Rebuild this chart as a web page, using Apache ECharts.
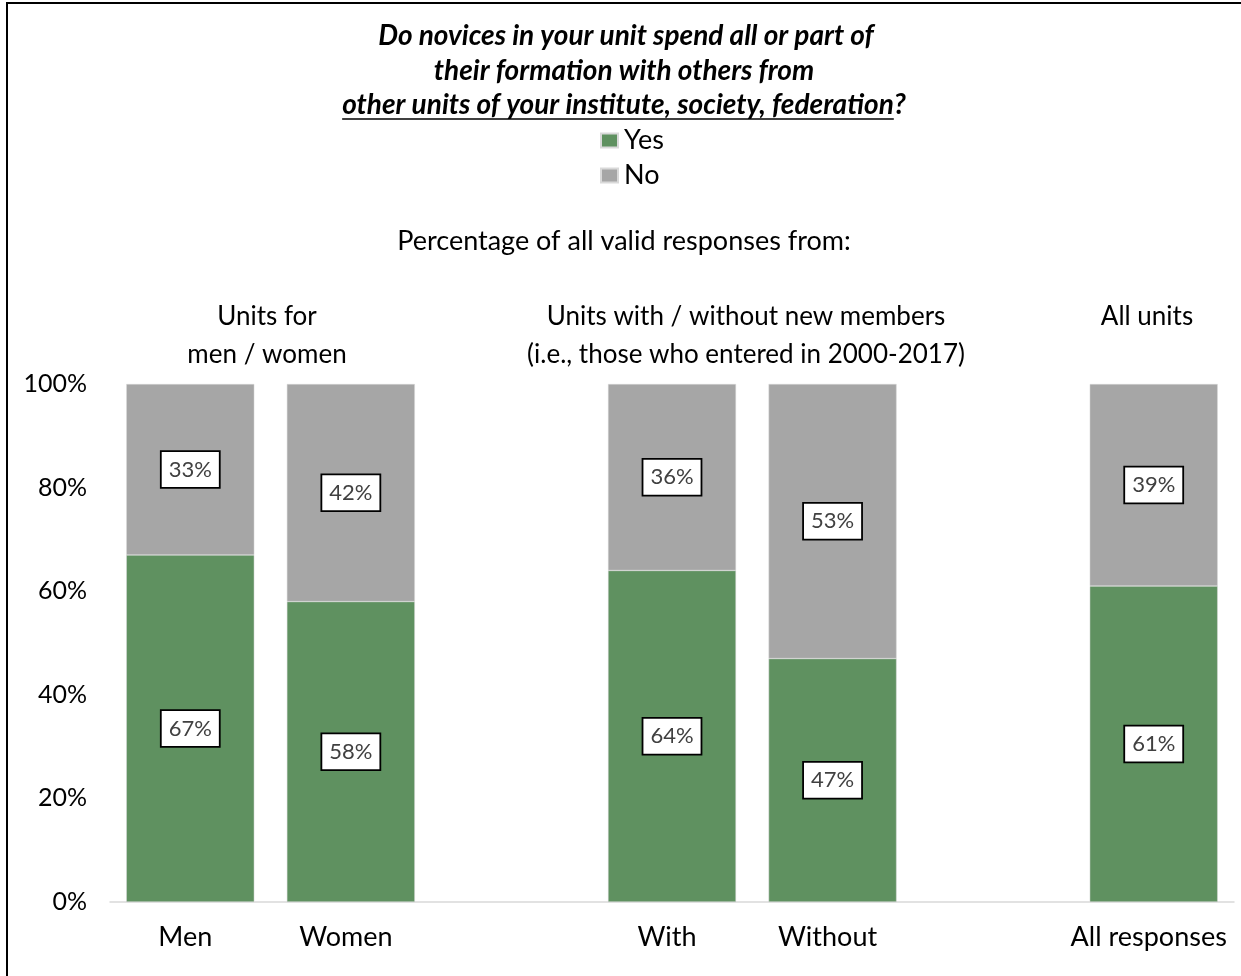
<!DOCTYPE html>
<html><head><meta charset="utf-8">
<script src="https://cdn.jsdelivr.net/npm/echarts@6/dist/echarts.min.js"></script>
<style>html,body{margin:0;padding:0;background:#fff}#c{width:1241px;height:976px}</style>
</head><body><div id="c"></div>
<script>
const categories = ['Men', 'Women', '', 'With', 'Without', '', 'All responses'];
const yesValues = [67, 58, null, 64, 47, null, 61];
const noValues = [33, 42, null, 36, 53, null, 39];
const yTicks = [0, 20, 40, 60, 80, 100];
const titleLines = ['Do novices in your unit spend all or part of', 'their formation with others from'];
const titleLine3 = 'other units of your institute, society, federation';
const subtitle = 'Percentage of all valid responses from:';
const groupLabels = ['Units for\nmen / women', 'Units with / without new members\n(i.e., those who entered in 2000-2017)', 'All units'];

const FONT = 'Lato';
const TITLE_FONT = 'italic bold 28px ' + FONT;
// measure line 3 to place the underline and question mark
const mctx = document.createElement('canvas').getContext('2d');
mctx.font = TITLE_FONT;
const w3 = mctx.measureText(titleLine3).width;
const wq = mctx.measureText('?').width;
const cx3 = 624;
const x3start = cx3 - (w3 + wq) / 2;

const chart = echarts.init(document.getElementById('c'), null, {renderer: 'canvas'});
const labelStyle = {
  show: true, position: 'inside', formatter: p => p.value == null ? '' : p.value + '%',
  color: '#404040', fontFamily: FONT, fontSize: 22, lineHeight: 22, backgroundColor: '#fff',
  borderColor: '#000', borderWidth: 1.8, padding: [7, 7, 6, 7]
};
const titleStyle = {font: TITLE_FONT, fill: '#000', textAlign: 'center', textVerticalAlign: 'middle'};
chart.setOption({
  animation: false,
  grid: {left: 110, width: 1124, top: 384, bottom: 74, containLabel: false},
  legend: {
    orient: 'vertical', left: 600, top: 127, padding: 0, itemWidth: 17, itemHeight: 14, itemGap: 8,
    icon: 'rect', textStyle: {fontFamily: FONT, fontSize: 27, lineHeight: 27, color: '#000', padding: [0, 0, 0, 1]},
    data: ['Yes', 'No']
  },
  xAxis: {
    type: 'category', data: categories,
    axisLine: {lineStyle: {color: '#d9d9d9', width: 1.5}}, axisTick: {show: false},
    axisLabel: {fontFamily: FONT, fontSize: 27, color: '#000', margin: 22, interval: 0, padding: [0, 10, 0, 0]}
  },
  yAxis: {
    type: 'value', min: 0, max: 100, interval: 20,
    axisLine: {show: false}, axisTick: {show: false}, splitLine: {show: false},
    axisLabel: {fontFamily: FONT, fontSize: 25, color: '#000', margin: 23,
      formatter: v => yTicks.includes(v) ? v + '%' : ''}
  },
  series: [
    {name: 'Yes', type: 'bar', stack: 's', data: yesValues, barWidth: 128,
     itemStyle: {color: '#5F9160', borderColor: '#d9d9d9', borderWidth: 0.5}, label: labelStyle},
    {name: 'No', type: 'bar', stack: 's', data: noValues, barWidth: 128,
     itemStyle: {color: '#A6A6A6', borderColor: '#d9d9d9', borderWidth: 0.5}, label: labelStyle}
  ],
  graphic: [
    {type: 'rect', shape: {x: 7, y: 3, width: 1400, height: 1100}, style: {fill: 'none', stroke: '#000', lineWidth: 2}, silent: true},
    {type: 'text', x: 626, y: 36, style: Object.assign({text: titleLines[0]}, titleStyle)},
    {type: 'text', x: 624, y: 71, style: Object.assign({text: titleLines[1]}, titleStyle)},
    {type: 'text', x: x3start, y: 105, style: Object.assign({}, titleStyle, {text: titleLine3, textAlign: 'left'})},
    {type: 'text', x: x3start + w3, y: 105, style: Object.assign({}, titleStyle, {text: '?', textAlign: 'left'})},
    {type: 'line', shape: {x1: x3start, y1: 119, x2: x3start + w3, y2: 119}, style: {stroke: '#000', lineWidth: 1.5}},
    {type: 'text', x: 624, y: 241, style: {text: subtitle, font: '27px ' + FONT, fill: '#000', textAlign: 'center', textVerticalAlign: 'middle'}},
    {type: 'text', x: 267, y: 336, style: {text: groupLabels[0], font: '26px ' + FONT, fill: '#000', textAlign: 'center', textVerticalAlign: 'middle', lineHeight: 38}},
    {type: 'text', x: 746, y: 336, style: {text: groupLabels[1], font: '26px ' + FONT, fill: '#000', textAlign: 'center', textVerticalAlign: 'middle', lineHeight: 38}},
    {type: 'text', x: 1147, y: 317, style: {text: groupLabels[2], font: '26px ' + FONT, fill: '#000', textAlign: 'center', textVerticalAlign: 'middle', lineHeight: 38}}
  ]
});
</script></body></html>
